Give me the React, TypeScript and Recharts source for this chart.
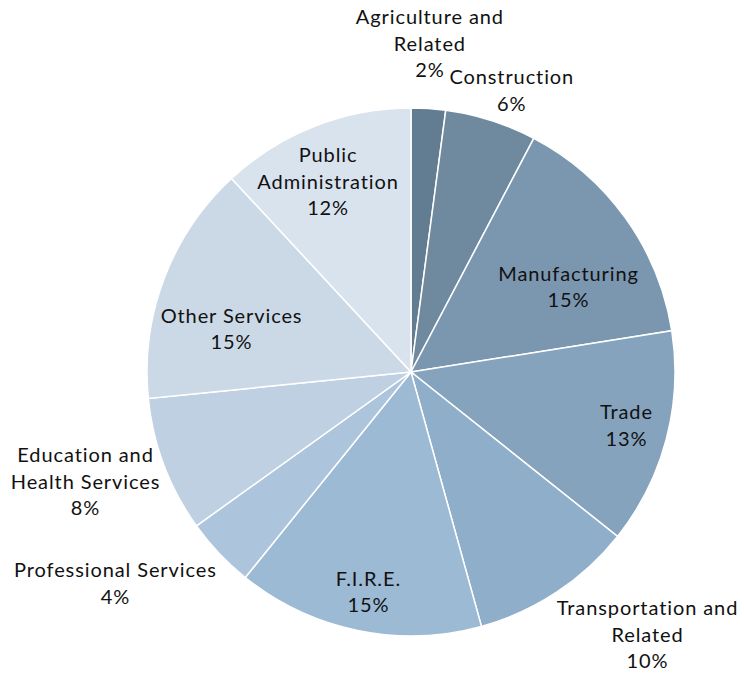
import React from 'react';
import { PieChart, Pie, Cell } from 'recharts';

// industry shares, clockwise from 12 o'clock
const industries = [
    'Agriculture and\nRelated',
    'Construction',
    'Manufacturing',
    'Trade',
    'Transportation and\nRelated',
    'F.I.R.E.',
    'Professional Services',
    'Education and\nHealth Services',
    'Other Services',
    'Public\nAdministration',
];
const shares = [2.1, 5.6, 14.8, 13.2, 10.0, 15.1, 4.3, 8.3, 14.7, 11.9];

const sliceColors = [
    '#627c92', '#6f899f', '#7b97b0', '#85a3bd', '#8eaeca',
    '#9dbad5', '#adc5dc', '#bfd0e2', '#cbd9e7', '#d9e3ee',
];

// label distance (x outer radius) and clockwise nudge in degrees
const labelRadius = [1.25, 1.136, 0.68, 0.84, 1.337, 0.845, 1.375, 1.3, 0.7, 0.79];
const labelNudge = [-0.5, 2, 7, -1, -8.6, -0.7, 7.9, 2.2, -6.9, -2];

const chartData = industries.map((name, i) => ({ name, value: shares[i] }));

const RAD = Math.PI / 180;
const LINE_H = 26.5;

const renderLabel = (props: any) => {
    const { cx, cy, midAngle, outerRadius, percent, index } = props;
    const r = outerRadius * labelRadius[index];
    const angle = midAngle - labelNudge[index];
    const x = cx + r * Math.cos(-angle * RAD);
    const y = cy + r * Math.sin(-angle * RAD);
    const lines = [...industries[index].split('\n'), `${Math.round(percent * 100)}%`];
    const top = y - ((lines.length - 1) / 2) * LINE_H;
    return (
        <text
            key={`lbl-${index}`}
            x={x}
            y={top}
            textAnchor="middle"
            dominantBaseline="central"
            fill="#111"
            fontSize={20}
            letterSpacing={0.9}
            fontFamily="Lato, sans-serif"
        >
            {lines.map((line, j) => (
                <tspan key={j} x={x} y={top + j * LINE_H}>{line}</tspan>
            ))}
        </text>
    );
};

export default function App() {
    return (
        <div style={{ position: 'absolute', left: 0, top: 0, width: 744, height: 673, background: '#fff' }}>
            <PieChart width={744} height={673}>
                <Pie
                    data={chartData}
                    dataKey="value"
                    nameKey="name"
                    cx={406}
                    cy={367}
                    outerRadius={264}
                    startAngle={90}
                    endAngle={-270}
                    stroke="#fff"
                    strokeWidth={1.5}
                    label={renderLabel}
                    labelLine={false}
                    isAnimationActive={false}
                >
                    {chartData.map((entry, index) => (
                        <Cell key={`cell-${index}`} fill={sliceColors[index]} />
                    ))}
                </Pie>
            </PieChart>
        </div>
    );
}
